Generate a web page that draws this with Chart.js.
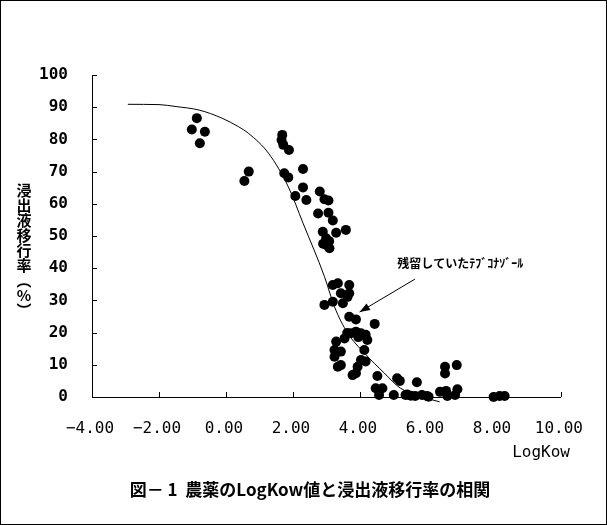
<!DOCTYPE html>
<html>
<head>
<meta charset="utf-8">
<script src="https://cdn.jsdelivr.net/npm/chart.js@4"></script>
<style>
  html, body { margin: 0; padding: 0; background: #fff; }
  #wrap { width: 607px; height: 525px; }
</style>
</head>
<body>
<div id="wrap"><canvas id="chart" width="607" height="525"></canvas></div>
<script>
// ============================================
// DATA
// ============================================
const logKow = [
  -0.87, -1.02, -0.63, -0.78,
  0.55, 0.68,
  1.68, 1.66, 1.71, 1.88, 2.30, 1.74, 1.86, 2.30, 2.07, 2.40,
  2.80, 2.94, 3.06, 2.75, 3.06, 3.19, 3.58, 2.89, 3.29, 2.99, 2.99, 3.09, 2.90, 3.08,
  3.19, 3.34, 3.68, 3.43, 3.63, 3.68, 2.94, 3.19, 3.49, 3.68, 3.88, 4.44,
  3.73, 3.88, 4.03, 4.17, 4.22, 3.54, 3.29, 3.62, 3.95,
  3.24, 3.43, 3.24, 3.34, 3.43, 4.13, 4.03, 4.17, 3.93, 3.88, 3.78, 4.52,
  5.11, 5.19, 5.70, 4.47, 4.67, 4.57, 5.01, 5.36, 5.52, 5.65, 5.85, 6.00, 5.41, 6.05,
  6.54, 6.54, 6.89, 6.39, 6.57, 6.61, 6.91, 6.84,
  7.99, 8.17, 8.32
];
const leachRate = [
  86.6, 83.1, 82.4, 78.8,
  67.1, 70.0,
  81.4, 79.8, 78.3, 76.7, 70.8, 69.5, 68.2, 65.1, 62.4, 61.2,
  63.8, 61.4, 61.0, 57.0, 57.2, 54.8, 51.9, 51.3, 51.0, 49.3, 47.2, 46.2, 47.6, 48.4,
  34.8, 35.3, 34.8, 32.2, 31.1, 32.2, 28.6, 29.6, 29.1, 24.9, 24.1, 22.7,
  19.8, 20.3, 19.8, 19.3, 17.7, 18.2, 17.2, 19.9, 18.6,
  14.6, 14.1, 12.5, 9.4, 9.9, 14.6, 11.5, 11.0, 9.4, 7.4, 6.8, 6.5,
  5.8, 5.0, 4.6, 2.7, 2.7, 0.6, 0.6, 0.6, 0.4, 0.3, 0.6, 0.3, 0.8, 0.1,
  9.4, 7.3, 9.9, 1.6, 1.9, 0.3, 2.4, 0.6,
  0.0, 0.3, 0.3
];

// fitted curve
const fitX = [-2.93, -2.0, -1.49, -0.80, -0.12, 0.38, 0.67, 1.27, 1.86, 2.30, 2.94, 3.24, 3.63, 4.13, 4.72, 5.20, 5.80, 6.38];
const fitY = [90.9, 90.8, 90.2, 89.1, 86.6, 83.9, 81.9, 75.7, 65.3, 54.0, 37.4, 28.0, 19.9, 13.7, 7.5, 2.8, 0.2, -1.5];

const xTickLabels = ['−4.00', '−2.00', '0.00', '2.00', '4.00', '6.00', '8.00', '10.00'];
const yTickLabels = ['0', '10', '20', '30', '40', '50', '60', '70', '80', '90', '100'];

const xTitle = 'LogKow';
const yTitleChars = ['浸', '出', '液', '移', '行', '率', '︵', '%', '︶'];
const caption = '図－ 1  農薬のLogKow値と浸出液移行率の相関';
const noteText = '残留していたﾃﾌﾞｺﾅｿﾞｰﾙ';
const noteAt = [5.11, 41.6];          // text anchor (data units)
const arrowFrom = [5.64, 36.6];
const arrowTo = [3.99, 26.4];

// ============================================
// EXTRA DRAWING (frame, inward ticks, labels, arrow)
// ============================================
const extras = {
  id: 'extras',
  afterDraw(chart) {
    const ctx = chart.ctx;
    const xs = chart.scales.x;
    const ys = chart.scales.y;
    const area = chart.chartArea;
    ctx.save();
    ctx.strokeStyle = '#000';
    ctx.fillStyle = '#000';
    ctx.lineWidth = 1;

    // page frame
    ctx.strokeRect(0.5, 0.5, chart.width - 1, chart.height - 1);

    // inward tick marks
    ctx.beginPath();
    xs.ticks.forEach(t => {
      const px = Math.round(xs.getPixelForValue(t.value)) + 0.5;
      ctx.moveTo(px, area.bottom);
      ctx.lineTo(px, area.bottom - 5);
    });
    ys.ticks.forEach(t => {
      const py = Math.round(ys.getPixelForValue(t.value)) + 0.5;
      ctx.moveTo(area.left, py);
      ctx.lineTo(area.left + 5, py);
    });
    ctx.stroke();

    // y title, stacked characters
    ctx.font = 'bold 15px "Noto Sans CJK JP"';
    ctx.textAlign = 'center';
    ctx.textBaseline = 'middle';
    yTitleChars.forEach((ch, i) => {
      ctx.fillText(ch, 24, 190 + i * 15);
    });

    // x title
    ctx.font = '16px "DejaVu Sans Mono"';
    ctx.textAlign = 'right';
    ctx.fillText(xTitle, 570, 453);

    // caption
    ctx.font = 'bold 17px "Noto Sans CJK JP"';
    ctx.textAlign = 'center';
    ctx.fillText(caption, 310, 490);

    // annotation text
    ctx.font = 'bold 12px "Noto Sans CJK JP"';
    ctx.textAlign = 'left';
    ctx.fillText(noteText, xs.getPixelForValue(noteAt[0]), ys.getPixelForValue(noteAt[1]));

    // arrow
    const x1 = xs.getPixelForValue(arrowFrom[0]), y1 = ys.getPixelForValue(arrowFrom[1]);
    const x2 = xs.getPixelForValue(arrowTo[0]), y2 = ys.getPixelForValue(arrowTo[1]);
    const ang = Math.atan2(y2 - y1, x2 - x1);
    ctx.beginPath();
    ctx.moveTo(x1, y1);
    ctx.lineTo(x2, y2);
    ctx.stroke();
    ctx.beginPath();
    ctx.moveTo(x2, y2);
    ctx.lineTo(x2 - 11 * Math.cos(ang - 0.35), y2 - 11 * Math.sin(ang - 0.35));
    ctx.lineTo(x2 - 11 * Math.cos(ang + 0.35), y2 - 11 * Math.sin(ang + 0.35));
    ctx.closePath();
    ctx.fill();
    ctx.restore();
  }
};

// ============================================
// CHART
// ============================================
new Chart(document.getElementById('chart'), {
  type: 'scatter',
  data: {
    datasets: [
      {
        type: 'line',
        data: fitX.map((x, i) => ({ x, y: fitY[i] })),
        borderColor: '#000',
        borderWidth: 1,
        pointRadius: 0,
        cubicInterpolationMode: 'monotone',
        fill: false,
        clip: false
      },
      {
        data: logKow.map((x, i) => ({ x, y: leachRate[i] })),
        backgroundColor: '#000',
        borderWidth: 0,
        pointRadius: 5,
        clip: false
      }
    ]
  },
  options: {
    responsive: false,
    animation: false,
    devicePixelRatio: 1,
    layout: { padding: { left: 0, top: 75, right: 42, bottom: 68 } },
    plugins: { legend: { display: false }, tooltip: { enabled: false } },
    scales: {
      x: {
        type: 'linear',
        min: -4,
        max: 10,
        afterFit: s => { s.height = 60; },
        grid: { display: false, drawTicks: false },
        border: { display: true, color: '#000', width: 1 },
        ticks: {
          stepSize: 2,
          padding: 22,
          labelOffset: -2,
          maxRotation: 0,
          color: '#000',
          font: { family: 'DejaVu Sans Mono', size: 16 },
          callback: (v, i) => xTickLabels[i]
        }
      },
      y: {
        min: 0,
        max: 100,
        afterFit: s => { s.width = 92; },
        grid: { display: false, drawTicks: false },
        border: { display: true, color: '#000', width: 1 },
        ticks: {
          stepSize: 10,
          padding: 24,
          color: '#000',
          font: { family: 'DejaVu Sans Mono', size: 16, weight: 'bold' },
          callback: (v, i) => yTickLabels[i]
        }
      }
    }
  },
  plugins: [extras]
});
</script>
</body>
</html>
